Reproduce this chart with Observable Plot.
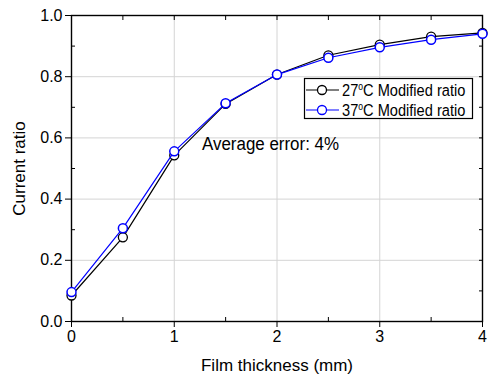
<!DOCTYPE html>
<html><head><meta charset="utf-8">
<script src="https://cdn.jsdelivr.net/npm/d3@7"></script>
<script src="https://cdn.jsdelivr.net/npm/@observablehq/plot@0.6"></script>
<style>body{margin:0;background:#fff}</style>
</head><body><div id="chart"></div>
<script>
const thickness = [0, 0.5, 1, 1.5, 2, 2.5, 3, 3.5, 4];
const ratio27 = [0.085, 0.275, 0.543, 0.711, 0.807, 0.870, 0.905, 0.931, 0.943];
const ratio37 = [0.096, 0.305, 0.556, 0.713, 0.807, 0.862, 0.896, 0.921, 0.940];
const seriesTemps = ["27", "37"];
const seriesSuffix = "C Modified ratio";
const seriesColors = ["#000000", "#0000ff"];
const xTicks = [0, 1, 2, 3, 4];
const yTicks = [0, 0.2, 0.4, 0.6, 0.8, 1.0];
const xMinorTicks = [0.5, 1.5, 2.5, 3.5];
const yMinorTicks = [0.1, 0.3, 0.5, 0.7, 0.9];
const xLabel = "Film thickness (mm)";
const yLabel = "Current ratio";
const annotation = "Average error: 4%";

const s27 = thickness.map((t, i) => ({t, v: ratio27[i]}));
const s37 = thickness.map((t, i) => ({t, v: ratio37[i]}));
const blank = () => "";

const plot = Plot.plot({
  width: 489, height: 376,
  marginLeft: 71, marginRight: 7, marginTop: 15, marginBottom: 55,
  style: {fontFamily: "'Liberation Sans', Arial, sans-serif", fontSize: "16px", color: "black", background: "white"},
  x: {domain: [0, 4]},
  y: {domain: [0, 1]},
  marks: [
    Plot.gridX({ticks: xTicks, stroke: "#d4d4d4", strokeOpacity: 1, strokeWidth: 1}),
    Plot.gridY({ticks: yTicks, stroke: "#d4d4d4", strokeOpacity: 1, strokeWidth: 1}),
    Plot.axisX({ticks: xTicks, tickSize: 6, tickPadding: 3, fontSize: 16, tickFormat: d3.format("d"),
      label: xLabel, labelAnchor: "center", labelOffset: 49, labelArrow: false}),
    Plot.axisX({ticks: xMinorTicks, tickSize: -4, tickFormat: blank, label: null}),
    Plot.axisX({anchor: "top", ticks: [...xTicks, ...xMinorTicks], tickSize: -4, tickFormat: blank, label: null}),
    Plot.axisY({ticks: yTicks, tickSize: 6, tickPadding: 3, fontSize: 16, tickFormat: d3.format(".1f"),
      label: yLabel, labelAnchor: "center", labelOffset: 59, labelArrow: false}),
    Plot.axisY({ticks: yMinorTicks, tickSize: -4, tickFormat: blank, label: null}),
    Plot.axisY({anchor: "right", ticks: [...yTicks, ...yMinorTicks], tickSize: -4, tickFormat: blank, label: null}),
    Plot.frame({stroke: "black", strokeWidth: 1.4}),
    Plot.line(s27, {x: "t", y: "v", stroke: seriesColors[0], strokeWidth: 1.2}),
    Plot.dot(s27, {x: "t", y: "v", r: 4.5, stroke: seriesColors[0], fill: "white", strokeWidth: 1.3}),
    Plot.line(s37, {x: "t", y: "v", stroke: seriesColors[1], strokeWidth: 1.2}),
    Plot.dot(s37, {x: "t", y: "v", r: 4.5, stroke: seriesColors[1], fill: "white", strokeWidth: 1.5}),
    Plot.text([annotation], {x: 1.27, y: 0.578, text: d => d, textAnchor: "start", fontSize: 18, className: "annot"})
  ]
});
document.getElementById("chart").appendChild(plot);

const svg = d3.select(plot);
svg.selectAll(".annot text").attr("textLength", 137).attr("lengthAdjust", "spacingAndGlyphs");
svg.selectAll("[aria-label='x-axis label'] text, [aria-label='y-axis label'] text").style("font-size", "17px");

// Legend
const lg = svg.append("g").attr("font-family", "'Liberation Sans', Arial, sans-serif").attr("text-anchor", "start");
lg.append("rect").attr("x", 304.5).attr("y", 78.5).attr("width", 168).attr("height", 40)
  .attr("fill", "white").attr("stroke", "black").attr("stroke-width", 1.2);
seriesTemps.forEach((temp, i) => {
  const cy = 90 + i * 20;
  lg.append("line").attr("x1", 306).attr("x2", 339).attr("y1", cy).attr("y2", cy)
    .attr("stroke", seriesColors[i]).attr("stroke-width", 1.2);
  lg.append("circle").attr("cx", 322).attr("cy", cy).attr("r", 4.5)
    .attr("fill", "white").attr("stroke", seriesColors[i]).attr("stroke-width", 1.3);
  const t = lg.append("text").attr("transform", `translate(342,${cy + 6}) scale(0.86,1)`)
    .attr("font-size", 17).attr("fill", "black").attr("text-anchor", "start");
  t.append("tspan").text(temp);
  t.append("tspan").attr("dy", -6).attr("font-size", 10).text("o");
  t.append("tspan").attr("dy", 6).text(seriesSuffix);
});
</script>
</body></html>
